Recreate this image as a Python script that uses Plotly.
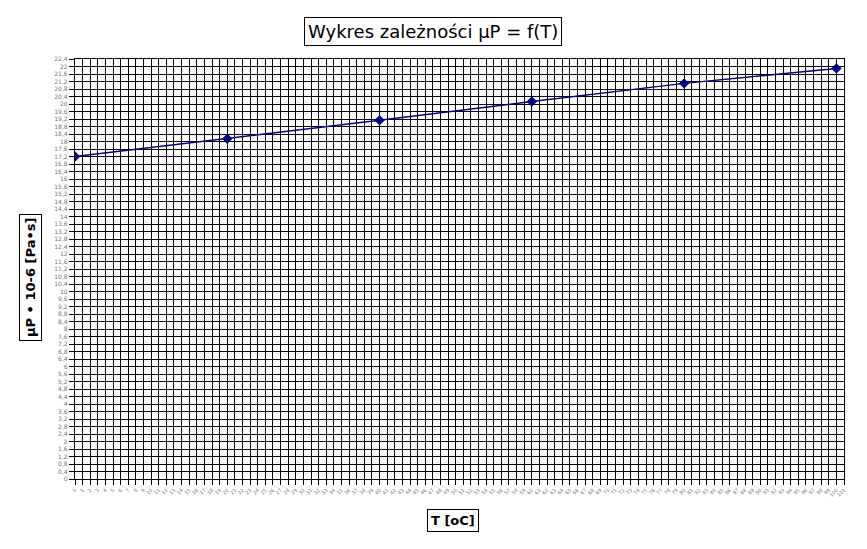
import plotly.graph_objects as go

# Data
temperature = [0, 20, 40, 60, 80, 100]
viscosity = [17.2, 18.15, 19.13, 20.13, 21.1, 21.9]

x_tick_values = list(range(0, 102))
x_tick_labels = [str(v) for v in x_tick_values]
y_tick_values = [round(i * 0.4, 1) for i in range(0, 57)]
y_tick_labels = [(f"{v:.1f}".rstrip("0").rstrip(".")).replace(".", ",") for v in y_tick_values]

title_text = "Wykres zależności µP = f(T)"
x_title = "T [oC]"
y_title = "µP • 10-6 [Pa•s]"

OFF = 8  # page body margin
W, H = 867 - OFF, 549 - OFF
L, T = 75 - OFF, 59 - OFF
R = W - (844 - OFF)
B = H - (479 - OFF)
PW, PH = W - L - R, H - T - B

def px_x(x):
    return (x - OFF - L) / PW

def px_y(y):
    return (H - B - (y - OFF)) / PH

fig = go.Figure()
fig.add_trace(go.Scatter(
    x=temperature, y=viscosity, mode="lines+markers",
    line=dict(color="#000080", width=1.5),
    marker=dict(symbol="diamond", size=8, color="#000080"),
    showlegend=False,
))

fig.update_layout(
    width=W, height=H,
    margin=dict(l=L, r=R, t=T, b=B, autoexpand=False),
    paper_bgcolor="white", plot_bgcolor="white",
    font=dict(family="DejaVu Sans", color="black"),
    xaxis=dict(
        range=[0, 101], tickmode="array", tickvals=x_tick_values, ticktext=x_tick_labels,
        tickangle=-45, tickfont=dict(size=5, color="#777777"), automargin=False,
        showgrid=True, gridcolor="black", gridwidth=1.3,
        showline=True, linecolor="black", linewidth=1.3, mirror=True,
        ticks="outside", ticklen=5, tickcolor="black", tickwidth=1.3,
        zeroline=False,
    ),
    yaxis=dict(
        range=[0, 22.4], tickmode="array", tickvals=y_tick_values, ticktext=y_tick_labels,
        tickfont=dict(size=6, color="#777777"), automargin=False,
        showgrid=True, gridcolor="black", gridwidth=1.3,
        showline=True, linecolor="black", linewidth=1.3, mirror=True,
        ticks="outside", ticklen=5, tickcolor="black", tickwidth=1.3,
        zeroline=False,
    ),
    annotations=[
        dict(text=title_text, xref="paper", yref="paper", x=px_x(432.5), y=px_y(31.5),
             yanchor="middle", xanchor="center", showarrow=False,
             font=dict(size=18, family="DejaVu Sans", color="black"),
             bordercolor="black", borderwidth=1, borderpad=3, bgcolor="white"),
        dict(text=x_title, xref="paper", yref="paper", x=px_x(453), y=px_y(520),
             yanchor="middle", xanchor="center", showarrow=False,
             font=dict(size=13, family="DejaVu Sans", color="black", weight="bold"),
             bordercolor="black", borderwidth=1, borderpad=3),
        dict(text=y_title, xref="paper", yref="paper", x=px_x(30), y=px_y(278),
             yanchor="middle", xanchor="center", showarrow=False, textangle=-90,
             font=dict(size=13, family="DejaVu Sans", color="black", weight="bold"),
             bordercolor="black", borderwidth=1, borderpad=3),
    ],
)

fig.write_html("out.html")
